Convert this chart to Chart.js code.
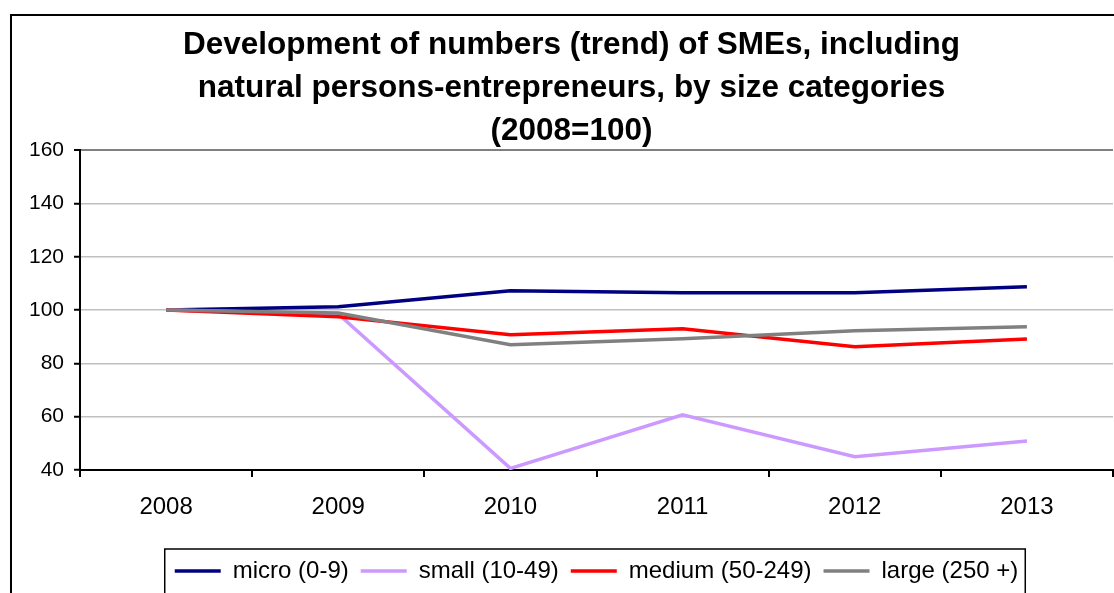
<!DOCTYPE html>
<html>
<head>
<meta charset="utf-8">
<script src="https://cdn.jsdelivr.net/npm/chart.js@4.4.1/dist/chart.umd.min.js"></script>
<style>
  html, body { margin: 0; padding: 0; background: #ffffff; }
  #wrap { width: 1114px; height: 593px; position: relative; }
</style>
</head>
<body>
<div id="wrap"><canvas id="c" width="1114" height="593"></canvas></div>
<script>
const titleLines = ['Development of numbers (trend) of SMEs, including', 'natural persons-entrepreneurs, by size categories', '(2008=100)'];
const years = ['2008', '2009', '2010', '2011', '2012', '2013'];
const micro = [100, 101.2, 107.2, 106.5, 106.5, 108.7];
const small = [100, 98.5, 40.6, 60.7, 45.0, 50.9];
const medium = [100, 97.5, 90.7, 93.0, 86.2, 89.1];
const large = [100, 98.9, 87.0, 89.2, 92.2, 93.7];
const seriesNames = ['micro (0-9)', 'small (10-49)', 'medium (50-249)', 'large (250 +)'];
const yMin = 40, yMax = 160, yStep = 20;

const FONT = '"Liberation Sans", Arial, sans-serif';

const frame = {
  id: 'frame',
  afterDraw(chart) {
    const ctx = chart.ctx;
    ctx.save();
    ctx.strokeStyle = '#000000';
    ctx.lineWidth = 2;
    ctx.strokeRect(11, 15, 1200, 700);
    const lg = chart.legend;
    if (lg && lg.legendHitBoxes && lg.legendHitBoxes.length) {
      const hb = lg.legendHitBoxes;
      const l = hb[0].left - 10;
      const r = hb[hb.length - 1].left + hb[hb.length - 1].width + 7;
      ctx.lineWidth = 1.5;
      ctx.strokeStyle = '#000000';
      ctx.strokeRect(l, lg.top + 2, r - l, lg.bottom - lg.top + 4);
    }
    ctx.restore();
  }
};

const LW = 3.5;

new Chart(document.getElementById('c'), {
  type: 'line',
  data: {
    labels: years,
    datasets: [
      { label: seriesNames[0], data: micro, borderColor: '#000080', backgroundColor: '#000080', borderWidth: LW, order: 3 },
      { label: seriesNames[1], data: small, borderColor: '#CC99FF', backgroundColor: '#CC99FF', borderWidth: LW, order: 2 },
      { label: seriesNames[2], data: medium, borderColor: '#FF0000', backgroundColor: '#FF0000', borderWidth: LW, order: 1 },
      { label: seriesNames[3], data: large, borderColor: '#808080', backgroundColor: '#808080', borderWidth: LW, order: 0 }
    ]
  },
  options: {
    responsive: false,
    animation: false,
    devicePixelRatio: 1,
    layout: { padding: { top: 0, left: 30, right: 1, bottom: 0 } },
    elements: {
      line: { tension: 0, fill: false },
      point: { radius: 0, hoverRadius: 0 }
    },
    plugins: {
      tooltip: { enabled: false },
      title: {
        display: true,
        text: titleLines,
        color: '#000000',
        font: { family: FONT, size: 31.5, weight: 'bold', lineHeight: 1.35 },
        padding: { top: 24.5, bottom: -2 }
      },
      legend: {
        display: true,
        position: 'bottom',
        fullSize: false,
        labels: {
          usePointStyle: true,
          pointStyle: 'line',
          pointStyleWidth: 46,
          padding: 12,
          color: '#000000',
          font: { family: FONT, size: 24 },
          sort: (a, b) => a.datasetIndex - b.datasetIndex
        }
      }
    },
    scales: {
      x: {
        type: 'category',
        offset: true,
        afterFit(scale) { scale.height = 77; },
        grid: {
          offset: true,
          drawOnChartArea: true,
          color: (ctx) => (ctx.index === years.length ? '#808080' : 'rgba(0,0,0,0)'),
          lineWidth: 2,
          tickColor: '#000000',
          tickWidth: 2,
          tickLength: 7
        },
        border: { display: true, color: '#000000', width: 2 },
        ticks: {
          color: '#000000',
          padding: 16,
          maxRotation: 0,
          font: { family: FONT, size: 24 }
        }
      },
      y: {
        min: yMin,
        max: yMax,
        afterFit(scale) { scale.width = 50; },
        grid: {
          color: (ctx) => (ctx.tick && ctx.tick.value === yMax ? '#808080' : '#C0C0C0'),
          lineWidth: (ctx) => (ctx.tick && ctx.tick.value === yMax ? 2 : 1.5),
          tickColor: '#000000',
          tickWidth: 2,
          tickLength: 6
        },
        border: { display: true, color: '#000000', width: 2 },
        ticks: {
          stepSize: yStep,
          color: '#000000',
          padding: 10,
          font: { family: FONT, size: 21 }
        }
      }
    }
  },
  plugins: [frame]
});
</script>
</body>
</html>
